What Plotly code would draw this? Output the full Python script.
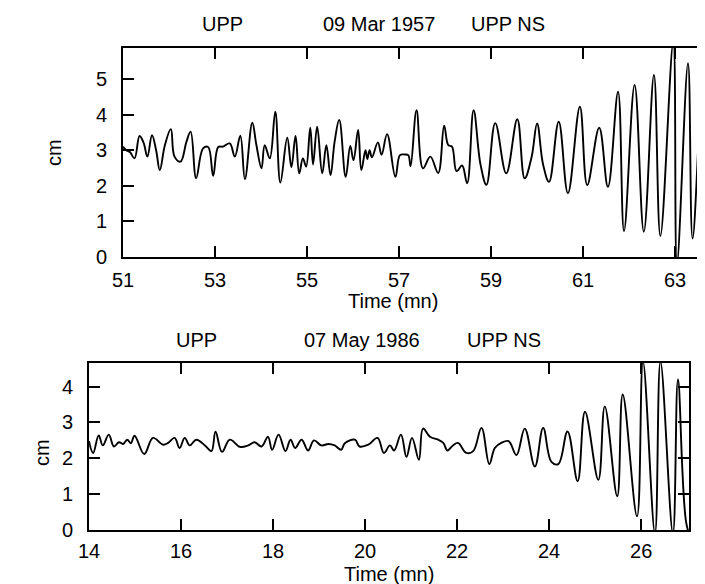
import plotly.graph_objects as go

# ---- Data: 09 Mar 1957 (time in minutes, displacement in cm) ----
t_1957 = [51.00, 51.07, 51.15, 51.25, 51.36, 51.45, 51.53, 51.63, 51.72, 51.80, 51.91, 52.04, 52.12, 52.25,
          52.38, 52.47, 52.59, 52.74, 52.85, 52.96, 53.07, 53.17, 53.32, 53.43, 53.55, 53.65, 53.81, 53.90,
          54.01, 54.08, 54.19, 54.31, 54.42, 54.57, 54.66, 54.75, 54.83, 54.91, 54.98, 55.07, 55.13, 55.22,
          55.33, 55.42, 55.51, 55.60, 55.70, 55.84, 55.94, 56.01, 56.11, 56.18, 56.27, 56.31, 56.36, 56.41,
          56.54, 56.62, 56.74, 56.92, 57.02, 57.12, 57.20, 57.25, 57.38, 57.52, 57.68, 57.85, 57.98, 58.07,
          58.15, 58.25, 58.37, 58.48, 58.62, 58.77, 58.90, 59.09, 59.33, 59.57, 59.73, 59.88, 60.00, 60.13,
          60.26, 60.47, 60.67, 60.93, 61.09, 61.35, 61.54, 61.76, 61.89, 62.12, 62.32, 62.54, 62.68, 62.96,
          63.04, 63.28, 63.38, 63.61, 63.73, 63.85]
y_1957 = [3.10, 3.00, 2.95, 2.77, 3.40, 3.20, 2.82, 3.42, 3.00, 2.44, 3.14, 3.59, 2.82, 2.68,
          3.24, 3.52, 2.21, 3.05, 3.09, 2.28, 3.09, 3.10, 3.19, 2.82, 3.41, 2.19, 3.77, 3.14,
          2.49, 3.14, 2.77, 4.08, 2.09, 3.35, 2.52, 3.40, 2.35, 2.77, 2.54, 3.63, 2.60, 3.66,
          2.35, 3.14, 2.30, 3.24, 3.85, 2.25, 3.12, 2.72, 3.57, 2.44, 3.00, 2.75, 3.00, 2.80,
          3.22, 2.87, 3.45, 2.25, 2.86, 2.88, 2.86, 2.55, 4.12, 2.49, 2.82, 2.36, 3.69, 3.14,
          3.10, 2.41, 2.57, 2.07, 4.12, 2.60, 2.03, 3.76, 2.35, 3.87, 2.21, 2.80, 3.75, 2.60,
          2.11, 3.80, 1.79, 4.22, 2.02, 3.63, 1.97, 4.64, 0.73, 4.83, 0.71, 5.11, 0.59, 6.05,
          -0.20, 5.44, 0.52, 5.20, 0.72, 3.50]

# ---- Data: 07 May 1986 ----
t_1986 = [14.00, 14.09, 14.21, 14.30, 14.43, 14.54, 14.65, 14.74, 14.83, 14.91, 14.99, 15.20, 15.39, 15.61,
          15.72, 15.86, 15.97, 16.08, 16.19, 16.33, 16.52, 16.66, 16.75, 16.89, 17.06, 17.28, 17.46, 17.60,
          17.75, 17.89, 17.98, 18.12, 18.27, 18.38, 18.48, 18.62, 18.76, 18.89, 19.05, 19.20, 19.34, 19.48,
          19.56, 19.78, 19.88, 20.07, 20.27, 20.41, 20.54, 20.63, 20.78, 20.90, 21.02, 21.17, 21.26, 21.41,
          21.59, 21.70, 21.79, 21.91, 22.02, 22.20, 22.35, 22.53, 22.70, 22.82, 22.96, 23.12, 23.29, 23.47,
          23.69, 23.87, 24.05, 24.20, 24.40, 24.62, 24.78, 25.07, 25.21, 25.48, 25.60, 25.91, 26.04, 26.30,
          26.42, 26.69, 26.80, 26.98, 27.10]
y_1986 = [2.48, 2.15, 2.64, 2.36, 2.66, 2.33, 2.45, 2.40, 2.52, 2.42, 2.63, 2.12, 2.57, 2.38,
          2.43, 2.57, 2.29, 2.57, 2.36, 2.52, 2.36, 2.20, 2.74, 2.18, 2.52, 2.32, 2.36, 2.45,
          2.33, 2.60, 2.24, 2.66, 2.20, 2.52, 2.29, 2.52, 2.22, 2.50, 2.36, 2.40, 2.36, 2.24,
          2.42, 2.52, 2.33, 2.38, 2.57, 2.15, 2.36, 2.22, 2.66, 2.04, 2.57, 1.96, 2.83, 2.60,
          2.52, 2.43, 2.22, 2.36, 2.43, 2.15, 2.20, 2.85, 1.84, 2.29, 2.43, 2.48, 2.09, 2.83,
          1.77, 2.85, 1.90, 1.84, 2.75, 1.36, 3.30, 1.40, 3.45, 0.94, 3.78, 0.38, 4.70, -0.10,
          4.70, -0.10, 4.20, 0.20, -0.30]

x_ticks_1957 = [51, 53, 55, 57, 59, 61, 63]
y_ticks_1957 = [0, 1, 2, 3, 4, 5]
x_ticks_1986 = [14, 16, 18, 20, 22, 24, 26]
y_ticks_1986 = [0, 1, 2, 3, 4]

W, H = 705, 584
FONT = "Liberation Sans"

def px(x):
    return x / W

def py(y):
    return 1 - y / H

fig = go.Figure()
fig.add_trace(go.Scatter(x=t_1957, y=y_1957, mode="lines", xaxis="x", yaxis="y",
                         line=dict(color="black", width=1.9, shape="spline", smoothing=1.1),
                         showlegend=False, hoverinfo="skip"))
fig.add_trace(go.Scatter(x=t_1986, y=y_1986, mode="lines", xaxis="x2", yaxis="y2",
                         line=dict(color="black", width=1.9, shape="spline", smoothing=1.1),
                         showlegend=False, hoverinfo="skip"))

axis_common = dict(showline=True, linecolor="black", linewidth=2, mirror="ticks",
                   ticks="inside", ticklen=11, tickwidth=1.5, tickcolor="black",
                   showgrid=False, zeroline=False, automargin=False,
                   tickfont=dict(family=FONT, size=20, color="black"))

fig.update_layout(
    width=W, height=H,
    paper_bgcolor="white", plot_bgcolor="white",
    margin=dict(l=0, r=0, t=0, b=0, autoexpand=False),
    xaxis=dict(domain=[px(115), px(703)], range=[51, 63.78], tickvals=x_ticks_1957,
               anchor="y", ticklabelstandoff=4, **axis_common),
    yaxis=dict(domain=[py(249), py(40)], range=[0, 5.87], tickvals=y_ticks_1957,
               anchor="x", ticklabelstandoff=10, **axis_common),
    xaxis2=dict(domain=[px(81), px(681)], range=[14, 27.04], tickvals=x_ticks_1986,
                anchor="y2", ticklabelstandoff=2, **axis_common),
    yaxis2=dict(domain=[py(522), py(355)], range=[0, 4.66], tickvals=y_ticks_1986,
                anchor="x2", ticklabelstandoff=10, **axis_common),
)

def label(text, x, y, size=20, angle=0):
    fig.add_annotation(text=text, x=px(x), y=py(y), xref="paper", yref="paper",
                       showarrow=False, xanchor="center", yanchor="middle", textangle=angle,
                       font=dict(family=FONT, size=size, color="black"))

# Titles
label("UPP", 214, 16)
label("09 Mar 1957", 371, 16)
label("UPP NS", 500, 16)
label("UPP", 188, 332)
label("07 May 1986", 354, 332)
label("UPP NS", 496, 332)
# Axis titles
label("Time (mn)", 385, 293)
label("Time (mn)", 381, 566)
label("cm", 46, 145, angle=-90)
label("cm", 34, 445, angle=-90)

fig.write_html("out.html")
